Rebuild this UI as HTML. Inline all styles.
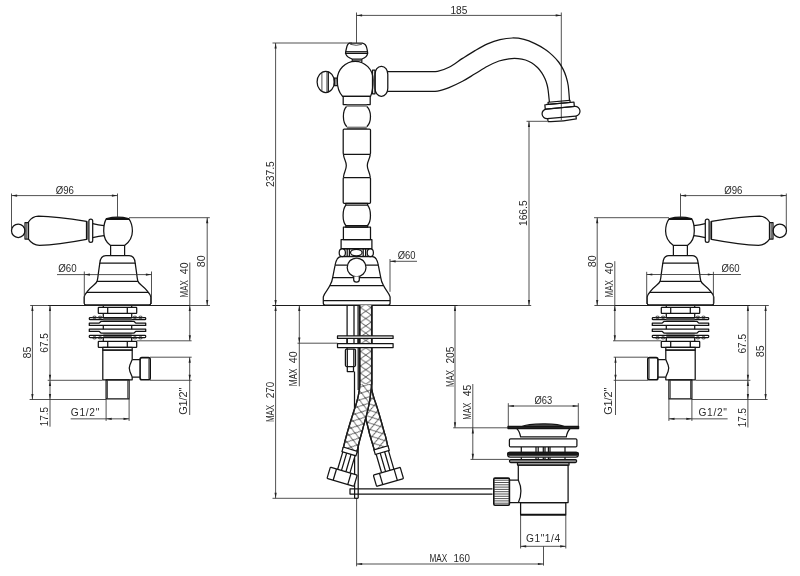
<!DOCTYPE html>
<html lang="en"><head><meta charset="utf-8"><title>Technical drawing</title>
<style>
html,body{margin:0;padding:0;background:#fff;overflow:hidden}
svg{display:block}
.o{fill:none;stroke:#141414;stroke-width:1.25;stroke-linejoin:round;stroke-linecap:butt}
.k{fill:none;stroke:#111;stroke-width:1.6;stroke-linejoin:round}
.h{fill:none;stroke:#1c1c1c;stroke-width:1.35;stroke-linejoin:round}
.t{fill:none;stroke:#333;stroke-width:0.85}
.a{fill:#222;stroke:none}
text.v{font-size:11px}
.m{fill:none;stroke:#1e1e1e;stroke-width:1.1}
.g{fill:#7a7a7a;stroke:none}
.g2{fill:#4a4a4a;stroke:none}
text{white-space:pre;font-family:"Liberation Sans",sans-serif;font-size:10.2px;fill:#2a2a2a}
</style></head>
<body>
<svg width="800" height="576" viewBox="0 0 800 576">
<rect x="0" y="0" width="800" height="576" fill="#fff"/>
<g opacity="0.999">
<defs>
<pattern id="br" width="10.6" height="7.3" patternUnits="userSpaceOnUse" patternTransform="translate(360.5,366)"><path d="M0,0 L10.6,7.3 M10.6,0 L0,7.3" stroke="#2a2a2a" stroke-width="0.8" fill="none"/></pattern>
<pattern id="brA" width="10.6" height="7.3" patternUnits="userSpaceOnUse" patternTransform="translate(349.9,450.5) rotate(16.5) translate(-5.3,0)"><path d="M0,0 L10.6,7.3 M10.6,0 L0,7.3" stroke="#2a2a2a" stroke-width="0.8" fill="none"/></pattern>
<pattern id="brB" width="10.6" height="7.3" patternUnits="userSpaceOnUse" patternTransform="translate(381.3,449) rotate(-16.3) translate(-5.3,0)"><path d="M0,0 L10.6,7.3 M10.6,0 L0,7.3" stroke="#2a2a2a" stroke-width="0.8" fill="none"/></pattern>
<g id="hd">
<circle class="o" cx="18.2" cy="230.8" r="6.7"/>
<rect class="o" x="25" y="222.6" width="3.4" height="16.4" rx="0" />
<line class="t" x1="26.7" y1="222.6" x2="26.7" y2="239"/>
<path class="o" d="M28.5,222 C31,218.2 34,216.2 38.5,216.2 C55,216.6 75,219.6 86.5,221.4 L86.5,239.4 C75,241.6 55,245 39.5,245.3 C34.5,245.3 31,243 28.5,239.2 Z" />
<line class="t" x1="87.7" y1="221.2" x2="87.7" y2="239.6"/>
<rect class="o" x="88.9" y="219.2" width="3.8" height="23.2" rx="1.9" />
<path class="o" d="M92.7,223.7 C96,224.6 100,225.4 104,225.7 M92.7,237.6 C96,236.8 100,236 104,235.7" />
<path class="o" d="M106.4,218.6 C104.4,221.8 103.7,226 103.7,231 C103.7,237.5 106.6,242.6 110.3,245.3 L124.8,245.3 C128.5,242.6 132.4,237.5 132.4,231 C132.4,226 131,221.8 128.8,218.6 Z" />
<path class="o" d="M106.5,219.3 L106.7,218.5 Q117.6,215.9 128.5,218.5 L128.7,219.3 Z" style="fill:#111"/>
<line class="o" x1="110.6" y1="245.3" x2="110.6" y2="255.7"/>
<line class="o" x1="124.6" y1="245.3" x2="124.6" y2="255.7"/>
<path class="o" d="M105.9,255.7 C102.3,255.7 100.2,258.6 99.8,263.2 L98.5,272.4 C98.1,276 97.7,279 97.1,281.3 C96.0,284.5 91.5,285.5 87.2,291.7 C85.7,293.3 84.2,295 84.2,297 L84.2,303 Q84.2,304.9 86.0,304.9 L149.0,304.9 M129.1,255.7 C132.7,255.7 134.8,258.6 135.2,263.2 L136.5,272.4 C136.9,276 137.3,279 137.9,281.3 C139.0,284.5 143.5,285.5 147.8,291.7 C149.3,293.3 150.8,295 150.8,297 L150.8,303 Q150.8,304.9 149.0,304.9 M105.9,255.7 L129.1,255.7" />
<line class="o" x1="99.8" y1="263.2" x2="135.2" y2="263.2"/>
<line class="o" x1="97.1" y1="281.3" x2="137.9" y2="281.3"/>
<line class="o" x1="86.8" y1="292.3" x2="148.2" y2="292.3"/>
<line class="o" x1="103.3" y1="305.5" x2="103.3" y2="307.3"/>
<line class="o" x1="103.3" y1="313.4" x2="103.3" y2="317.6"/>
<line class="o" x1="103.3" y1="325.4" x2="103.3" y2="329.2"/>
<line class="o" x1="103.3" y1="337.5" x2="103.3" y2="341.4"/>
<line class="o" x1="131.7" y1="305.5" x2="131.7" y2="307.3"/>
<line class="o" x1="131.7" y1="313.4" x2="131.7" y2="317.6"/>
<line class="o" x1="131.7" y1="325.4" x2="131.7" y2="329.2"/>
<line class="o" x1="131.7" y1="337.5" x2="131.7" y2="341.4"/>
<rect class="o" x="98.3" y="307.3" width="38.4" height="6.1" rx="0.6" />
<line class="o" x1="107.7" y1="307.3" x2="107.7" y2="313.4"/>
<line class="o" x1="127.3" y1="307.3" x2="127.3" y2="313.4"/>
<rect class="o" x="89.3" y="317.6" width="56.4" height="2.1" rx="0.8" />
<rect class="g2" x="103.3" y="318.0" width="28.4" height="2.2" rx="0" />
<line class="t" x1="103.3" y1="321.2" x2="131.7" y2="321.2"/>
<ellipse class="t" cx="94.5" cy="317.3" rx="1.9" ry="1.15"/>
<ellipse class="t" cx="94.5" cy="337.8" rx="1.9" ry="1.15"/>
<ellipse class="t" cx="100.1" cy="317.3" rx="1.9" ry="1.15"/>
<ellipse class="t" cx="100.1" cy="337.8" rx="1.9" ry="1.15"/>
<ellipse class="t" cx="134.9" cy="317.3" rx="1.9" ry="1.15"/>
<ellipse class="t" cx="134.9" cy="337.8" rx="1.9" ry="1.15"/>
<ellipse class="t" cx="140.5" cy="317.3" rx="1.9" ry="1.15"/>
<ellipse class="t" cx="140.5" cy="337.8" rx="1.9" ry="1.15"/>
<path class="o" d="M89.3,323.2 L99.0,323.2 C100.0,323.2 100.0,321.4 101.5,321.4 L133.5,321.4 C135.0,321.4 135.0,323.2 136.0,323.2 L145.7,323.2 L145.7,325.4 L89.3,325.4 Z" />
<path class="o" d="M89.3,331.4 L99.0,331.4 C100.0,331.4 100.0,333.2 101.5,333.2 L133.5,333.2 C135.0,333.2 135.0,331.4 136.0,331.4 L145.7,331.4 L145.7,329.2 L89.3,329.2 Z" />
<rect class="g2" x="103.3" y="334.7" width="28.4" height="2.2" rx="0" />
<line class="t" x1="103.3" y1="333.8" x2="131.7" y2="333.8"/>
<rect class="o" x="89.3" y="335.3" width="56.4" height="2.2" rx="0.8" />
<rect class="o" x="98.3" y="341.4" width="38.4" height="5.9" rx="0.6" />
<line class="o" x1="107.7" y1="341.4" x2="107.7" y2="347.3"/>
<line class="o" x1="127.3" y1="341.4" x2="127.3" y2="347.3"/>
<rect class="o" x="102.8" y="347.3" width="29.4" height="2.9" rx="0" />
<path class="o" d="M132.2,359.6 L132.2,350.2 L102.8,350.2 L102.8,379.8 L132.2,379.8 L132.2,377.1" />
<path class="o" d="M132.2,359.6 L129.9,365 Q128.5,368.3 129.9,371.6 L132.2,377.1" />
<path class="o" d="M132.2,359.6 L140.2,359.6 M132.2,377.1 L140.2,377.1" />
<rect class="k" x="140.1" y="357.6" width="10.1" height="22.1" rx="1.8" />
<line class="t" x1="148.8" y1="358.5" x2="148.8" y2="378.8"/>
<rect class="o" x="106.1" y="379.8" width="23.0" height="19.1" rx="0" />
<line class="t" x1="107.5" y1="380" x2="107.5" y2="398.9"/>
<line class="t" x1="127.7" y1="380" x2="127.7" y2="398.9"/>
</g>
</defs>
<use href="#hd"/>
<line class="t" x1="30.2" y1="305.5" x2="210" y2="305.5"/>
<line class="m" x1="48.1" y1="305.5" x2="190" y2="305.5"/>
<line class="t" x1="11.5" y1="195.6" x2="117.5" y2="195.6"/>
<polygon class="a" points="11.5,195.6 17.1,194.5 17.1,196.7"/>
<polygon class="a" points="117.5,195.6 111.9,194.5 111.9,196.7"/>
<line class="t" x1="11.5" y1="193.5" x2="11.5" y2="229"/>
<line class="t" x1="117.5" y1="193.5" x2="117.5" y2="217"/>
<line class="t" x1="57" y1="274.6" x2="151.5" y2="274.6"/>
<polygon class="a" points="84.3,274.6 89.9,273.5 89.9,275.7"/>
<polygon class="a" points="151.5,274.6 145.9,273.5 145.9,275.7"/>
<line class="t" x1="84.3" y1="271.5" x2="84.3" y2="304"/>
<line class="t" x1="151.5" y1="271.5" x2="151.5" y2="304"/>
<line class="t" x1="129" y1="217.7" x2="209.8" y2="217.7"/>
<line class="t" x1="207.2" y1="217.7" x2="207.2" y2="305.5"/>
<polygon class="a" points="207.2,217.7 206.1,223.3 208.3,223.3"/>
<polygon class="a" points="207.2,305.5 206.1,299.9 208.3,299.9"/>
<line class="t" x1="189.8" y1="262.5" x2="189.8" y2="340.8"/>
<polygon class="a" points="189.8,305.5 188.7,311.1 190.9,311.1"/>
<polygon class="a" points="189.8,340.8 188.7,335.2 190.9,335.2"/>
<line class="t" x1="136.7" y1="340.8" x2="191.6" y2="340.8"/>
<line class="t" x1="32.4" y1="305.5" x2="32.4" y2="399.5"/>
<polygon class="a" points="32.4,305.5 31.3,311.1 33.5,311.1"/>
<polygon class="a" points="32.4,399.5 31.3,393.9 33.5,393.9"/>
<line class="t" x1="29.6" y1="399.5" x2="106.1" y2="399.5"/>
<line class="t" x1="50" y1="305.5" x2="50" y2="380.3"/>
<polygon class="a" points="50,305.5 48.9,311.1 51.1,311.1"/>
<polygon class="a" points="50,380.3 48.9,374.7 51.1,374.7"/>
<line class="t" x1="47.7" y1="380.3" x2="102.5" y2="380.3"/>
<line class="t" x1="50" y1="380.3" x2="50" y2="426.7"/>
<polygon class="a" points="50,380.3 48.9,385.9 51.1,385.9"/>
<polygon class="a" points="50,399.5 48.9,393.9 51.1,393.9"/>
<line class="t" x1="106.1" y1="399" x2="106.1" y2="420.9"/>
<line class="t" x1="129.1" y1="399" x2="129.1" y2="420.9"/>
<line class="t" x1="70.7" y1="418.85" x2="129.1" y2="418.85"/>
<polygon class="a" points="106.1,418.85 111.7,417.75 111.7,419.95"/>
<polygon class="a" points="129.1,418.85 123.5,417.75 123.5,419.95"/>
<line class="t" x1="150" y1="357.2" x2="191.7" y2="357.2"/>
<line class="t" x1="150" y1="380.3" x2="191.7" y2="380.3"/>
<line class="t" x1="189.7" y1="357.2" x2="189.7" y2="415"/>
<polygon class="a" points="189.7,357.2 188.6,362.8 190.8,362.8"/>
<polygon class="a" points="189.7,380.3 188.6,374.7 190.8,374.7"/>
<use href="#hd" transform="translate(798,0) scale(-1,1)"/>
<line class="t" x1="594.4" y1="305.5" x2="768.8" y2="305.5"/>
<line class="m" x1="614.9" y1="305.5" x2="749.9" y2="305.5"/>
<line class="t" x1="680.5" y1="195.6" x2="786.3" y2="195.6"/>
<polygon class="a" points="680.5,195.6 686.1,194.5 686.1,196.7"/>
<polygon class="a" points="786.3,195.6 780.7,194.5 780.7,196.7"/>
<line class="t" x1="786.3" y1="193.5" x2="786.3" y2="229"/>
<line class="t" x1="680.5" y1="193.5" x2="680.5" y2="217"/>
<line class="t" x1="646.7" y1="274.5" x2="740.9" y2="274.5"/>
<polygon class="a" points="646.7,274.5 652.3,273.4 652.3,275.6"/>
<polygon class="a" points="713.4,274.5 707.8,273.4 707.8,275.6"/>
<line class="t" x1="646.7" y1="271.8" x2="646.7" y2="304"/>
<line class="t" x1="713.4" y1="271.8" x2="713.4" y2="304"/>
<line class="t" x1="594" y1="217.7" x2="669" y2="217.7"/>
<line class="t" x1="597.2" y1="217.7" x2="597.2" y2="305.5"/>
<polygon class="a" points="597.2,217.7 596.1,223.3 598.3,223.3"/>
<polygon class="a" points="597.2,305.5 596.1,299.9 598.3,299.9"/>
<line class="t" x1="614.8" y1="261.2" x2="614.8" y2="340.8"/>
<polygon class="a" points="614.8,305.5 613.7,311.1 615.9,311.1"/>
<polygon class="a" points="614.8,340.8 613.7,335.2 615.9,335.2"/>
<line class="t" x1="613" y1="340.8" x2="661.3" y2="340.8"/>
<line class="t" x1="747.9" y1="305.5" x2="747.9" y2="380.3"/>
<polygon class="a" points="747.9,305.5 746.8,311.1 749.0,311.1"/>
<polygon class="a" points="747.9,380.3 746.8,374.7 749.0,374.7"/>
<line class="t" x1="747.9" y1="380.3" x2="747.9" y2="427.5"/>
<polygon class="a" points="747.9,380.3 746.8,385.9 749.0,385.9"/>
<polygon class="a" points="747.9,399.5 746.8,393.9 749.0,393.9"/>
<line class="t" x1="695.5" y1="380.3" x2="750.4" y2="380.3"/>
<line class="t" x1="765.6" y1="305.5" x2="765.6" y2="399.5"/>
<polygon class="a" points="765.6,305.5 764.5,311.1 766.7,311.1"/>
<polygon class="a" points="765.6,399.5 764.5,393.9 766.7,393.9"/>
<line class="t" x1="691.8" y1="399.5" x2="767.6" y2="399.5"/>
<line class="t" x1="668.9" y1="399" x2="668.9" y2="420.9"/>
<line class="t" x1="691.9" y1="399" x2="691.9" y2="420.9"/>
<line class="t" x1="668.9" y1="418.85" x2="727.6" y2="418.85"/>
<polygon class="a" points="668.9,418.85 674.5,417.75 674.5,419.95"/>
<polygon class="a" points="691.9,418.85 686.3,417.75 686.3,419.95"/>
<line class="t" x1="613.7" y1="357.2" x2="648" y2="357.2"/>
<line class="t" x1="613.7" y1="380.3" x2="648" y2="380.3"/>
<line class="t" x1="615.5" y1="357.2" x2="615.5" y2="415"/>
<polygon class="a" points="615.5,357.2 614.4,362.8 616.6,362.8"/>
<polygon class="a" points="615.5,380.3 614.4,374.7 616.6,374.7"/>
<line class="t" x1="272.6" y1="305.5" x2="531.2" y2="305.5"/>
<line class="m" x1="272.6" y1="305.5" x2="457.5" y2="305.5"/>
<line class="t" x1="356.5" y1="15.4" x2="561.3" y2="15.4"/>
<polygon class="a" points="356.5,15.4 362.1,14.3 362.1,16.5"/>
<polygon class="a" points="561.3,15.4 555.7,14.3 555.7,16.5"/>
<line class="t" x1="356.5" y1="12.5" x2="356.5" y2="42.8"/>
<line class="t" x1="561.3" y1="12.5" x2="561.3" y2="120"/>
<line class="t" x1="272.5" y1="43" x2="352" y2="43"/>
<line class="t" x1="275.6" y1="43" x2="275.6" y2="305.5"/>
<polygon class="a" points="275.6,43 274.5,48.6 276.7,48.6"/>
<polygon class="a" points="275.6,305.5 274.5,299.9 276.7,299.9"/>
<line class="t" x1="526.5" y1="121.3" x2="547" y2="121.3"/>
<line class="t" x1="529" y1="121.3" x2="529" y2="305.5"/>
<polygon class="a" points="529,121.3 527.9,126.9 530.1,126.9"/>
<polygon class="a" points="529,305.5 527.9,299.9 530.1,299.9"/>
<line class="t" x1="390" y1="261.3" x2="417" y2="261.3"/>
<polygon class="a" points="390,261.3 395.6,260.2 395.6,262.4"/>
<line class="t" x1="390" y1="259" x2="390" y2="291.8"/>
<line class="t" x1="275.6" y1="305.5" x2="275.6" y2="498.3"/>
<polygon class="a" points="275.6,305.5 274.5,311.1 276.7,311.1"/>
<polygon class="a" points="275.6,498.3 274.5,492.7 276.7,492.7"/>
<line class="t" x1="272.5" y1="498.3" x2="355" y2="498.3"/>
<line class="t" x1="299.3" y1="305.5" x2="299.3" y2="386.3"/>
<polygon class="a" points="299.3,305.5 298.2,311.1 300.4,311.1"/>
<polygon class="a" points="299.3,343.2 298.2,337.6 300.4,337.6"/>
<line class="t" x1="297.5" y1="343.2" x2="337.5" y2="343.2"/>
<line class="t" x1="455" y1="305.5" x2="455" y2="427.8"/>
<polygon class="a" points="455,305.5 453.9,311.1 456.1,311.1"/>
<polygon class="a" points="455,427.8 453.9,422.2 456.1,422.2"/>
<line class="t" x1="453.2" y1="427.8" x2="508" y2="427.8"/>
<line class="t" x1="472.8" y1="384" x2="472.8" y2="459.4"/>
<polygon class="a" points="472.8,427.8 471.7,433.4 473.9,433.4"/>
<polygon class="a" points="472.8,459.4 471.7,453.8 473.9,453.8"/>
<line class="t" x1="470.5" y1="459.4" x2="509.4" y2="459.4"/>
<line class="t" x1="508.3" y1="406" x2="578.3" y2="406"/>
<polygon class="a" points="508.3,406 513.9,404.9 513.9,407.1"/>
<polygon class="a" points="578.3,406 572.7,404.9 572.7,407.1"/>
<line class="t" x1="508.3" y1="403.2" x2="508.3" y2="427"/>
<line class="t" x1="578.3" y1="403.2" x2="578.3" y2="427"/>
<line class="t" x1="520.6" y1="515" x2="520.6" y2="548.5"/>
<line class="t" x1="565.8" y1="515" x2="565.8" y2="548.5"/>
<line class="t" x1="520.6" y1="546.3" x2="565.8" y2="546.3"/>
<polygon class="a" points="520.6,546.3 526.2,545.2 526.2,547.4"/>
<polygon class="a" points="565.8,546.3 560.2,545.2 560.2,547.4"/>
<line class="t" x1="356.6" y1="498" x2="356.6" y2="566.3"/>
<line class="t" x1="543.5" y1="546.3" x2="543.5" y2="565.6"/>
<line class="t" x1="356.6" y1="564" x2="543.5" y2="564"/>
<polygon class="a" points="356.6,564 362.2,562.9 362.2,565.1"/>
<polygon class="a" points="543.5,564 537.9,562.9 537.9,565.1"/>
<path class="o" d="M388,71.6 C394.17,71.60 416.75,71.65 425,71.6 C433.25,71.55 433.50,72.03 437.5,71.3 C441.50,70.57 444.83,69.35 449,67.2 C453.17,65.05 458.17,61.17 462.5,58.4 C466.83,55.63 470.83,53.02 475,50.6 C479.17,48.18 483.33,45.73 487.5,43.9 C491.67,42.07 495.83,40.58 500,39.6 C504.17,38.62 508.50,38.03 512.5,38 C516.50,37.97 520.25,38.47 524,39.4 C527.75,40.33 531.58,42.00 535,43.6 C538.42,45.20 541.58,47.03 544.5,49 C547.42,50.97 550.15,53.23 552.5,55.4 C554.85,57.57 556.80,59.63 558.6,62 C560.40,64.37 562.03,67.10 563.3,69.6 C564.57,72.10 565.38,74.35 566.2,77 C567.02,79.65 567.65,81.63 568.2,85.5 C568.75,89.37 569.28,97.75 569.5,100.2" />
<path class="o" d="M388,91.4 C394.17,91.40 416.75,91.45 425,91.4 C433.25,91.35 433.50,91.73 437.5,91.1 C441.50,90.47 444.83,89.23 449,87.6 C453.17,85.97 458.17,83.60 462.5,81.3 C466.83,79.00 470.83,76.30 475,73.8 C479.17,71.30 483.50,68.43 487.5,66.3 C491.50,64.17 495.42,62.25 499,61 C502.58,59.75 505.83,59.20 509,58.8 C512.17,58.40 515.25,58.40 518,58.6 C520.75,58.80 523.25,59.30 525.5,60 C527.75,60.70 529.50,61.55 531.5,62.8 C533.50,64.05 535.78,65.83 537.5,67.5 C539.22,69.17 540.55,70.92 541.8,72.8 C543.05,74.67 544.13,76.80 545,78.75 C545.87,80.70 546.48,82.62 547,84.5 C547.52,86.38 547.70,87.08 548.1,90 C548.50,92.92 549.18,100.00 549.4,102" />
<g transform="rotate(-5.2 560 110)">
<rect class="o" x="548.8" y="101.2" width="22.0" height="2.2" rx="0" />
<rect class="o" x="545.4" y="103.4" width="29.2" height="4.4" rx="0" />
<rect class="o" x="541.8" y="107.8" width="38.0" height="9.6" rx="4.8" />
<path class="o" d="M547,117.4 L547,120.4 Q561,122 575.4,120.4 L575.4,117.4" />
</g>
<path class="o" d="M349.4,43.2 L362.4,43.2 C365,43.7 366.4,46 366.9,48.5 L367.5,51.7 L367.7,53.4 C367,56.4 364.6,58.2 361.9,59 L352.2,59 C349.5,58.2 346.6,56.4 345.5,53.4 L345.7,51.7 L346.4,48.5 C346.9,46 347.8,43.7 349.4,43.2 Z" />
<path class="t" d="M350.2,44.3 Q356.4,46.3 361.9,44.3" />
<line class="o" x1="345.7" y1="51.75" x2="367.5" y2="51.75"/>
<line class="o" x1="345.5" y1="53.4" x2="367.7" y2="53.4"/>
<line class="o" x1="352.3" y1="59" x2="352.3" y2="62"/>
<line class="o" x1="361.8" y1="59" x2="361.8" y2="62"/>
<line class="t" x1="352.3" y1="60.4" x2="361.8" y2="60.4"/>
<ellipse class="o" cx="325.75" cy="81.9" rx="8.65" ry="10.6"/>
<line class="t" x1="321.9" y1="72.6" x2="321.9" y2="91.2"/>
<line class="t" x1="326.9" y1="71.4" x2="326.9" y2="92.4"/>
<line class="o" x1="328.3" y1="71.6" x2="328.3" y2="92.2"/>
<rect class="o" x="334.3" y="78" width="3.1" height="7.6" rx="0" />
<line class="t" x1="335.8" y1="78" x2="335.8" y2="85.6"/>
<path class="o" d="M342.5,96.3 C338.5,92 337.2,86 337.2,79.8 C337.2,69.5 345.4,61.3 355.2,61.3 C365,61.3 373.1,69.5 373.1,79.8 C373.1,86 372.5,92 370.6,96.3 Z" />
<rect class="o" x="372.5" y="70" width="2.5" height="23.8" rx="0" />
<rect class="o" x="375" y="66.3" width="12.8" height="30.0" rx="6.2" ry="8"/>
<rect class="o" x="343.2" y="96.3" width="27.0" height="8.2" rx="0" />
<rect class="g" x="346.5" y="104.5" width="20.3" height="2.3" rx="0" />
<path class="o" d="M346.5,106.5 C342.3,111 342.3,122 346.8,126.8 M366.8,106.5 C371.7,111 371.7,122 366.8,126.8" />
<rect class="g" x="346.8" y="126.6" width="20.0" height="2.4" rx="0" />
<rect class="o" x="343.2" y="129" width="27.3" height="25.3" rx="1" />
<path class="o" d="M343.4,154.3 C344,160 346.3,161 346.3,165.5 C346.3,170 344,171.5 343.4,177.5 M370.3,154.3 C369.6,160 367.3,161 367.3,165.5 C367.3,170 369.6,171.5 370.3,177.5" />
<rect class="o" x="343.2" y="177.5" width="27.3" height="25.8" rx="1" />
<rect class="o" x="345.8" y="203.3" width="21.8" height="1.9" rx="0" />
<path class="o" d="M345.8,205.2 C342.2,210 342.2,221 345.8,225.5 M367.6,205.2 C371.4,210 371.4,221 367.6,225.5" />
<rect class="o" x="345.8" y="225.5" width="21.8" height="1.7" rx="0" />
<rect class="o" x="343.4" y="227.2" width="27.1" height="12.4" rx="0" />
<rect class="o" x="341.1" y="239.6" width="30.8" height="9.0" rx="0" />
<line class="o" x1="342" y1="248.9" x2="371" y2="248.9"/>
<line class="o" x1="342" y1="256.4" x2="371" y2="256.4"/>
<line class="o" x1="347.2" y1="248.9" x2="347.2" y2="256.4"/>
<line class="o" x1="349.4" y1="248.9" x2="349.4" y2="256.4"/>
<line class="o" x1="363.2" y1="248.9" x2="363.2" y2="256.4"/>
<line class="o" x1="365.6" y1="248.9" x2="365.6" y2="256.4"/>
<ellipse class="o" cx="342.3" cy="252.7" rx="3.1" ry="3.8" style="fill:#fff"/>
<ellipse class="o" cx="370.3" cy="252.7" rx="3.1" ry="3.8" style="fill:#fff"/>
<ellipse class="o" cx="356.3" cy="252.6" rx="5.8" ry="3.3" style="fill:#fff"/>
<path class="o" d="M341,256.6 C338,256.8 336,260 335.1,265.2 L332.6,277.8 C332.2,281 331,283.5 330,285.3 C328,290 324.5,292.5 323.3,296.8 L323.3,303 Q323.3,305 325.2,305 L388.2,305 Q390.1,305 390.1,303 L390.1,296.8 C388.9,292.5 385.4,290 383.4,285.3 C382.4,283.5 381.2,281 380.8,277.8 L378.3,265.2 C377.4,260 375.4,256.8 372.4,256.6 Z" />
<line class="o" x1="335.1" y1="265.1" x2="378.3" y2="265.1"/>
<line class="o" x1="332.6" y1="277.7" x2="380.8" y2="277.7"/>
<line class="o" x1="330" y1="285.6" x2="383.4" y2="285.6"/>
<line class="o" x1="323.3" y1="300.7" x2="390.1" y2="300.7"/>
<circle class="o" cx="356.6" cy="267.4" r="9.4" style="fill:#fff"/>
<path class="o" d="M353.7,276.4 L353.7,279.8 Q353.7,282.2 356.5,282.2 Q359.3,282.2 359.3,279.8 L359.3,276.4" style="fill:#fff"/>
<line class="o" x1="347.1" y1="305.5" x2="347.1" y2="349"/>
<line class="o" x1="354" y1="305.5" x2="354" y2="336"/>
<line class="o" x1="358.1" y1="305.5" x2="358.1" y2="336"/>
<line class="o" x1="354.5" y1="371.5" x2="354.5" y2="410"/>
<line class="o" x1="358.2" y1="338" x2="358.2" y2="390"/>
<line class="o" x1="358.2" y1="436" x2="358.2" y2="498.3"/>
<line class="o" x1="354.6" y1="457.5" x2="354.6" y2="498.3"/>
<line class="o" x1="354.6" y1="498.3" x2="358.2" y2="498.3"/>
<path class="h" d="M360,305.5 L360,384 C361,398 363.5,408 365.6,417.5 C367,424 370,437 374.6,450.9 L387.9,447.1 C386.3,439 385,434 384.4,433 C382,424 378,409 374.4,399.5 C372.6,394 371.6,391 371.6,386 L371.6,305.5" style="fill:#fff"/>
<path class="h" d="M360,305.5 L360,384 C361,398 363.5,408 365.6,417.5 C367,424 370,437 374.6,450.9 L387.9,447.1 C386.3,439 385,434 384.4,433 C382,424 378,409 374.4,399.5 C372.6,394 371.6,391 371.6,386 L371.6,305.5" style="fill:url(#brB)"/>
<path class="h" d="M360,305.5 L360,382 C359.8,393 357.5,401 353.8,411.3 C351,420 346.4,434 343.2,448.5 L356.8,452.5 C358.6,444 360.4,437 362.5,430 C365,420 369.8,406 370.6,394 C371,390 371.6,388 371.6,384 L371.6,305.5" style="fill:#fff"/>
<path class="h" d="M360,305.5 L360,382 C359.8,393 357.5,401 353.8,411.3 C351,420 346.4,434 343.2,448.5 L356.8,452.5 C358.6,444 360.4,437 362.5,430 C365,420 369.8,406 370.6,394 C371,390 371.6,388 371.6,384 L371.6,305.5" style="fill:url(#brA)"/>
<rect class="h" x="360" y="305.5" width="11.6" height="78.5" rx="0" style="fill:#fff;stroke:none"/>
<rect class="h" x="360" y="305.5" width="11.6" height="78.5" rx="0" style="fill:url(#br);stroke:none"/>
<line class="h" x1="360" y1="305.5" x2="360" y2="384.5"/>
<line class="h" x1="371.6" y1="305.5" x2="371.6" y2="384.5"/>
<rect class="o" x="337.5" y="335.9" width="55.6" height="2.5" rx="0" style="fill:#fff"/>
<rect class="o" x="337.5" y="343.7" width="55.6" height="3.8" rx="0" style="fill:#fff"/>
<line class="o" x1="354" y1="338.4" x2="354" y2="343.7"/>
<line class="o" x1="358.1" y1="338.4" x2="358.1" y2="343.7"/>
<line class="o" x1="347.1" y1="338.4" x2="347.1" y2="343.7"/>
<rect class="o" x="345.4" y="349" width="10.1" height="17.5" rx="1.2" style="fill:#fff"/>
<line class="o" x1="347.3" y1="349" x2="347.3" y2="366.5"/>
<line class="o" x1="353.8" y1="349" x2="353.8" y2="366.5"/>
<path class="o" d="M347.3,366.5 L347.3,371.5 L353.5,371.5 L353.5,366.5" />
<path class="o" d="M492.5,488.8 L350,488.8 L350,494 L492.5,494" />
<g transform="rotate(16.5 349.9 450.5)">
<rect class="o" x="342.59999999999997" y="449.1" width="14.6" height="4.8" rx="0" style="fill:#fff"/>
<path class="o" d="M343.5,453.9 L343.5,472.0 M356.29999999999995,453.9 L356.29999999999995,472.0 M347.5,453.9 L347.5,472.0 M352.09999999999997,453.9 L352.09999999999997,472.0" />
<rect class="o" x="335.9" y="472.0" width="28.0" height="11.8" rx="0.8" style="fill:#fff"/>
<line class="o" x1="342.29999999999995" y1="472.0" x2="342.29999999999995" y2="483.8"/>
<line class="o" x1="357.5" y1="472.0" x2="357.5" y2="483.8"/>
</g>
<g transform="rotate(-16.3 381.3 449)">
<rect class="o" x="374.0" y="447.8" width="14.6" height="4.8" rx="0" style="fill:#fff"/>
<path class="o" d="M374.90000000000003,452.6 L374.90000000000003,471.9 M387.7,452.6 L387.7,471.9 M379.1,452.6 L379.1,471.9 M383.7,452.6 L383.7,471.9" />
<rect class="o" x="366.3" y="471.9" width="28.0" height="11.7" rx="0.8" style="fill:#fff"/>
<line class="o" x1="372.7" y1="471.9" x2="372.7" y2="483.6"/>
<line class="o" x1="387.90000000000003" y1="471.9" x2="387.90000000000003" y2="483.6"/>
</g>
<path class="o" d="M521.3,426.8 C529,422.9 557,422.9 565,426.8 Z" style="fill:#555"/>
<rect class="o" x="508" y="426.3" width="70.6" height="2.3" rx="0" style="fill:#222"/>
<path class="o" d="M516.9,428.7 C519.5,431 520,434 520.6,436.9 L566.3,436.9 C566.8,434 567.5,431 570,428.7" />
<rect class="o" x="509.4" y="438.8" width="67.5" height="8.1" rx="1.2" />
<line class="o" x1="521.3" y1="446.9" x2="521.3" y2="453"/>
<line class="o" x1="565" y1="446.9" x2="565" y2="453"/>
<line class="o" x1="536" y1="447" x2="536" y2="459.6"/>
<line class="o" x1="538.2" y1="447" x2="538.2" y2="459.6"/>
<line class="o" x1="543.3" y1="447" x2="543.3" y2="459.6"/>
<line class="o" x1="545" y1="447" x2="545" y2="459.6"/>
<line class="o" x1="548.4" y1="447" x2="548.4" y2="459.6"/>
<line class="o" x1="550" y1="447" x2="550" y2="459.6"/>
<rect class="o" x="507.7" y="452.3" width="70.6" height="4.9" rx="2.4" style="fill:#fff"/>
<rect class="o" x="507.7" y="452.4" width="70.6" height="2.8" rx="1.4" style="fill:#1a1a1a"/>
<line class="o" x1="521.3" y1="457.2" x2="521.3" y2="459.4"/>
<line class="o" x1="565" y1="457.2" x2="565" y2="459.4"/>
<rect class="o" x="509.5" y="459.6" width="67.1" height="2.9" rx="1.2" style="fill:#8a8a8a"/>
<rect class="o" x="517.5" y="462.5" width="51.5" height="2.5" rx="0" />
<path class="o" d="M518.3,480 L518.3,465 L568.1,465 L568.1,502.6 L518.3,502.6" />
<rect class="o" x="520.6" y="502.6" width="45.2" height="12.2" rx="0" />
<line class="k" x1="520.6" y1="514.6" x2="565.8" y2="514.6"/>
<rect class="k" x="493.8" y="478.1" width="15.6" height="27.1" rx="1.2" />
<line class="t" x1="494" y1="480.2" x2="509.2" y2="480.2"/>
<line class="t" x1="494" y1="482.5" x2="509.2" y2="482.5"/>
<line class="t" x1="494" y1="484.8" x2="509.2" y2="484.8"/>
<line class="t" x1="494" y1="487.1" x2="509.2" y2="487.1"/>
<line class="t" x1="494" y1="489.4" x2="509.2" y2="489.4"/>
<line class="t" x1="494" y1="491.7" x2="509.2" y2="491.7"/>
<line class="t" x1="494" y1="494.0" x2="509.2" y2="494.0"/>
<line class="t" x1="494" y1="496.3" x2="509.2" y2="496.3"/>
<line class="t" x1="494" y1="498.6" x2="509.2" y2="498.6"/>
<line class="t" x1="494" y1="500.9" x2="509.2" y2="500.9"/>
<line class="t" x1="494" y1="503.2" x2="509.2" y2="503.2"/>
<path class="o" d="M509.4,480 L518.3,480 M509.4,502.7 L518.3,502.7 M518.3,480 Q523.6,491.4 518.3,502.7" />
<text y="13.6"><tspan x="450.45" textLength="16.9" lengthAdjust="spacingAndGlyphs">185</tspan></text>
<text y="193.9"><tspan x="55.65" textLength="18.2" lengthAdjust="spacingAndGlyphs">Ø96</tspan></text>
<text y="193.9"><tspan x="724.15" textLength="18.2" lengthAdjust="spacingAndGlyphs">Ø96</tspan></text>
<text y="272.4"><tspan x="58.25" textLength="18.4" lengthAdjust="spacingAndGlyphs">Ø60</tspan></text>
<text y="272.4"><tspan x="721.45" textLength="18.1" lengthAdjust="spacingAndGlyphs">Ø60</tspan></text>
<text y="259.4"><tspan x="397.75" textLength="17.8" lengthAdjust="spacingAndGlyphs">Ø60</tspan></text>
<text y="403.7"><tspan x="534.45" textLength="17.7" lengthAdjust="spacingAndGlyphs">Ø63</tspan></text>
<text y="416.1"><tspan x="70.75" textLength="28.5" lengthAdjust="spacing">G1/2&quot;</tspan></text>
<text y="415.9"><tspan x="698.45" textLength="28.5" lengthAdjust="spacing">G1/2&quot;</tspan></text>
<text y="541.8"><tspan x="525.95" textLength="34.1" lengthAdjust="spacing">G1&quot;1/4</tspan></text>
<text y="561.5"><tspan x="429.45" textLength="17.8" lengthAdjust="spacingAndGlyphs">MAX</tspan><tspan x="447.55" textLength="4.9" lengthAdjust="spacingAndGlyphs"> </tspan><tspan x="453.55" textLength="16.4" lengthAdjust="spacingAndGlyphs">160</tspan></text>
<text class="v" transform="translate(30.6,0) rotate(-90)"><tspan x="-358.55" textLength="12.0" lengthAdjust="spacingAndGlyphs">85</tspan></text>
<text class="v" transform="translate(47.9,0) rotate(-90)"><tspan x="-352.75" textLength="19.7" lengthAdjust="spacingAndGlyphs">67.5</tspan></text>
<text class="v" transform="translate(47.9,0) rotate(-90)"><tspan x="-426.25" textLength="19.2" lengthAdjust="spacingAndGlyphs">17.5</tspan></text>
<text class="v" transform="translate(187.9,0) rotate(-90)"><tspan x="-297.45" textLength="17.2" lengthAdjust="spacingAndGlyphs">MAX</tspan><tspan x="-279.95" textLength="4.9" lengthAdjust="spacingAndGlyphs"> </tspan><tspan x="-274.2" textLength="11.65" lengthAdjust="spacingAndGlyphs">40</tspan></text>
<text class="v" transform="translate(204.9,0) rotate(-90)"><tspan x="-267.15" textLength="11.9" lengthAdjust="spacingAndGlyphs">80</tspan></text>
<text class="v" transform="translate(186.6,0) rotate(-90)"><tspan x="-414.85" textLength="27.3" lengthAdjust="spacing">G1/2&quot;</tspan></text>
<text class="v" transform="translate(273.7,0) rotate(-90)"><tspan x="-186.95" textLength="25.7" lengthAdjust="spacingAndGlyphs">237.5</tspan></text>
<text class="v" transform="translate(274,0) rotate(-90)"><tspan x="-422.05" textLength="17.2" lengthAdjust="spacingAndGlyphs">MAX</tspan><tspan x="-404.45" textLength="4.9" lengthAdjust="spacingAndGlyphs"> </tspan><tspan x="-398.25" textLength="16.5" lengthAdjust="spacingAndGlyphs">270</tspan></text>
<text class="v" transform="translate(296.9,0) rotate(-90)"><tspan x="-386.15" textLength="17.7" lengthAdjust="spacingAndGlyphs">MAX</tspan><tspan x="-368.45" textLength="4.9" lengthAdjust="spacingAndGlyphs"> </tspan><tspan x="-363.15" textLength="11.9" lengthAdjust="spacingAndGlyphs">40</tspan></text>
<text class="v" transform="translate(527.1,0) rotate(-90)"><tspan x="-226.05" textLength="25.7" lengthAdjust="spacingAndGlyphs">166.5</tspan></text>
<text class="v" transform="translate(453.75,0) rotate(-90)"><tspan x="-386.95" textLength="16.9" lengthAdjust="spacingAndGlyphs">MAX</tspan><tspan x="-369.45" textLength="4.9" lengthAdjust="spacingAndGlyphs"> </tspan><tspan x="-363.55" textLength="17.0" lengthAdjust="spacingAndGlyphs">205</tspan></text>
<text class="v" transform="translate(471.25,0) rotate(-90)"><tspan x="-419.75" textLength="16.9" lengthAdjust="spacingAndGlyphs">MAX</tspan><tspan x="-402.45" textLength="4.9" lengthAdjust="spacingAndGlyphs"> </tspan><tspan x="-396.35" textLength="11.5" lengthAdjust="spacingAndGlyphs">45</tspan></text>
<text class="v" transform="translate(595.6,0) rotate(-90)"><tspan x="-267.15" textLength="11.9" lengthAdjust="spacingAndGlyphs">80</tspan></text>
<text class="v" transform="translate(613.1,0) rotate(-90)"><tspan x="-297.45" textLength="17.2" lengthAdjust="spacingAndGlyphs">MAX</tspan><tspan x="-279.95" textLength="4.9" lengthAdjust="spacingAndGlyphs"> </tspan><tspan x="-274.2" textLength="11.65" lengthAdjust="spacingAndGlyphs">40</tspan></text>
<text class="v" transform="translate(612.1,0) rotate(-90)"><tspan x="-414.85" textLength="27.3" lengthAdjust="spacing">G1/2&quot;</tspan></text>
<text class="v" transform="translate(745.6,0) rotate(-90)"><tspan x="-353.55" textLength="19.7" lengthAdjust="spacingAndGlyphs">67.5</tspan></text>
<text class="v" transform="translate(745.6,0) rotate(-90)"><tspan x="-427.15" textLength="19.2" lengthAdjust="spacingAndGlyphs">17.5</tspan></text>
<text class="v" transform="translate(763.9,0) rotate(-90)"><tspan x="-357.25" textLength="12.0" lengthAdjust="spacingAndGlyphs">85</tspan></text>
</g>
</svg>
</body></html>
